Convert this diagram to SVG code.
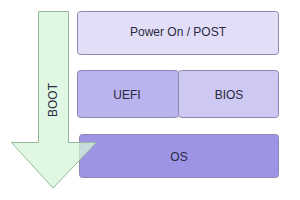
<svg xmlns="http://www.w3.org/2000/svg" width="300" height="200" viewBox="0 0 300 200">
<style>
.box{stroke:#8d88b3;stroke-width:1}
.t{font-family:"Liberation Sans",Arial,sans-serif;font-size:12px;fill:#2a2a40;text-anchor:middle;dominant-baseline:central}
</style>
<rect width="300" height="200" fill="#ffffff"/>
<g id="power"><rect class="box" x="77.5" y="11.5" width="201" height="43" rx="3" fill="#e2def8"/><text class="t" x="178" y="32">Power On / POST</text></g>
<g id="uefi"><rect class="box" x="77.5" y="70.5" width="101" height="47" rx="3" fill="#b9b3ee"/><text class="t" x="127" y="95">UEFI</text></g>
<g id="bios"><rect class="box" x="178.5" y="70.5" width="100" height="47" rx="3" fill="#cdc9f3"/><text class="t" x="229" y="95">BIOS</text></g>
<g id="os"><rect class="box" x="79.5" y="134.5" width="199" height="43" rx="3" fill="#9d94e6"/><text class="t" x="179" y="157">OS</text></g>
<g id="connectors">
<g id="boot"><path d="M38.5 11.5 H68.5 V142.5 H96.5 L53 188 L11.5 142.5 H38.5 Z" fill="#d6f5da" fill-opacity="0.75" stroke="#97b89a" stroke-width="1"/>
<text class="t" transform="translate(53 100) rotate(-90)">BOOT</text></g>
</g>
</svg>
